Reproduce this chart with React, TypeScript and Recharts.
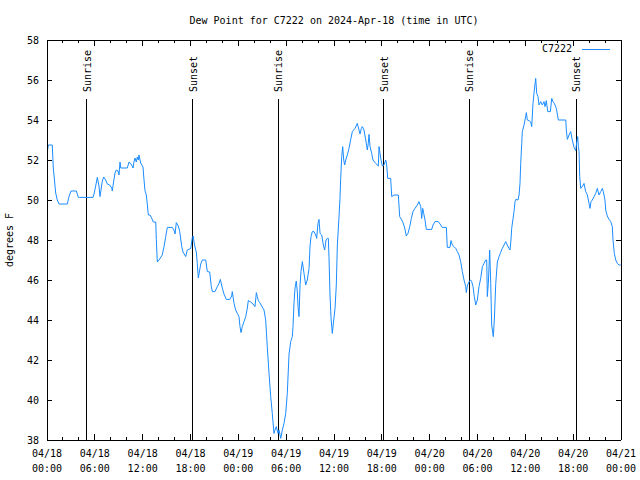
import React from 'react';
import { LineChart, Line, XAxis, YAxis, ReferenceLine, Legend } from 'recharts';

const TITLE = 'Dew Point for C7222 on 2024-Apr-18 (time in UTC)';
const SERIES_NAME = 'C7222';
const Y_LABEL = 'degrees F';
const LINE_COLOR = '#1a8cff';
const FONT = '"DejaVu Sans Mono", "Liberation Mono", monospace';

// hours since 2024-04-18 00:00 UTC
const HOURS = [
  0.04, 0.16, 0.66, 0.79, 0.97, 1.09, 1.29, 1.51, 2.55, 2.76,
  3.01, 3.68, 3.93, 4.10, 5.77, 5.90, 6.11, 6.31, 6.52, 6.65,
  6.81, 6.94, 7.11, 7.36, 7.56, 7.87, 8.12, 8.19, 8.37, 8.53,
  8.69, 8.91, 9.03, 9.16, 9.25, 10.07, 10.29, 10.62, 10.79, 10.91,
  11.04, 11.20, 11.33, 11.45, 11.54, 11.75, 12.04, 12.17, 12.29, 12.46,
  12.58, 12.71, 12.92, 13.13, 13.33, 13.64, 13.71, 13.84, 14.05, 14.46,
  14.68, 14.89, 15.09, 15.72, 15.93, 16.06, 16.22, 16.47, 16.65, 16.90,
  17.06, 17.40, 17.60, 18.03, 18.23, 18.35, 18.44, 18.65, 18.73, 18.85,
  18.98, 19.28, 19.48, 19.91, 20.11, 20.41, 20.61, 20.74, 21.07, 21.36,
  21.58, 21.74, 21.99, 22.20, 22.49, 22.92, 23.17, 23.24, 23.46, 23.67,
  23.87, 24.08, 24.21, 24.34, 24.50, 24.71, 24.93, 25.13, 25.25, 25.55,
  25.84, 26.09, 26.26, 26.38, 26.51, 26.68, 26.93, 27.22, 27.43, 27.63,
  27.85, 28.06, 28.26, 28.47, 28.60, 28.76, 28.98, 29.10, 29.32, 29.52,
  29.73, 29.94, 30.14, 30.36, 30.57, 30.77, 30.86, 30.98, 31.11, 31.27,
  31.40, 31.49, 31.61, 31.74, 31.86, 32.03, 32.24, 32.45, 32.65, 32.87,
  32.99, 33.12, 33.28, 33.49, 33.71, 33.83, 33.99, 34.12, 34.25, 34.46,
  34.66, 34.83, 35.00, 35.16, 35.29, 35.37, 35.50, 35.63, 35.79, 35.91,
  36.13, 36.29, 36.42, 36.63, 36.75, 36.84, 36.97, 37.09, 37.22, 37.34,
  37.47, 37.67, 37.88, 38.10, 38.30, 38.64, 38.92, 39.14, 39.26, 39.43,
  39.55, 39.76, 39.98, 40.18, 40.30, 40.39, 40.52, 40.73, 40.89, 41.23,
  41.56, 41.65, 41.77, 41.90, 42.06, 42.27, 42.49, 42.61, 42.74, 43.11,
  43.24, 43.53, 44.07, 44.24, 44.49, 44.66, 44.87, 45.07, 45.28, 45.50,
  45.70, 45.91, 46.16, 46.45, 46.66, 46.88, 47.00, 47.13, 47.25, 47.42,
  47.58, 48.26, 48.42, 48.67, 49.09, 49.39, 49.59, 50.09, 50.21, 50.55,
  50.68, 50.84, 51.05, 51.27, 51.47, 51.68, 51.89, 52.10, 52.31, 52.52,
  52.60, 52.72, 52.94, 53.15, 53.27, 53.44, 53.60, 53.78, 53.98, 54.19,
  54.40, 54.61, 54.82, 55.03, 55.16, 55.23, 55.36, 55.53, 55.66, 55.78,
  55.98, 56.11, 56.29, 56.49, 56.70, 56.91, 57.11, 57.33, 57.54, 57.74,
  57.95, 58.08, 58.20, 58.29, 58.46, 58.58, 58.71, 58.80, 59.08, 59.21,
  59.33, 59.42, 59.55, 59.62, 59.84, 59.96, 60.13, 60.25, 60.46, 60.68,
  60.80, 60.96, 61.13, 61.30, 61.43, 61.59, 61.72, 61.93, 62.13, 62.34,
  62.47, 62.63, 62.81, 63.14, 63.31, 63.47, 63.64, 63.89, 64.14, 65.07,
  65.14, 65.27, 65.48, 65.69, 65.89, 66.11, 66.32, 66.45, 66.57, 66.65,
  66.74, 66.82, 66.95, 67.15, 67.36, 67.57, 67.78, 67.99, 68.11, 68.24,
  68.40, 68.62, 68.83, 69.03, 69.24, 69.46, 69.66, 69.78, 69.99, 70.08,
  70.28, 70.50, 70.71, 70.91, 71.00, 71.16, 71.34, 71.54, 71.75, 71.97,
];

// dew point, degrees F
const DEW_POINT = [
  52.4, 52.75, 52.75, 51.6, 50.85, 50.35, 50.0, 49.8, 49.8, 50.17,
  50.45, 50.45, 50.13, 50.13, 50.13, 50.3, 50.7, 51.13, 50.7, 50.17,
  50.6, 50.95, 51.15, 51.0, 50.8, 50.75, 50.6, 50.45, 50.95, 51.35,
  51.5, 51.45, 51.25, 51.9, 51.6, 51.6, 51.9, 51.75, 51.6, 51.9,
  52.1, 51.9, 52.15, 52.0, 52.25, 51.85, 51.65, 51.0, 50.47, 50.25,
  49.8, 49.25, 49.25, 49.1, 48.9, 48.9, 48.03, 46.9, 47.0, 47.25,
  47.67, 48.17, 48.63, 48.63, 48.5, 48.3, 48.87, 48.7, 48.42, 47.67,
  47.4, 47.17, 47.5, 47.58, 48.13, 48.2, 47.9, 47.5, 47.4, 46.83,
  46.1, 46.8, 47.0, 47.0, 46.42, 46.4, 45.67, 45.42, 45.42, 45.67,
  45.83, 46.03, 45.6, 45.3, 45.03, 45.03, 45.2, 45.42, 44.83, 44.5,
  44.33, 44.17, 43.67, 43.37, 43.67, 43.92, 44.17, 44.6, 44.97, 44.9,
  44.8, 44.67, 45.37, 45.17, 44.97, 44.87, 44.7, 44.5, 44.0, 42.67,
  41.33, 40.17, 39.33, 38.33, 38.5, 38.67, 38.33, 38.5, 38.08, 38.5,
  38.83, 39.33, 40.33, 42.3, 42.92, 43.17, 43.67, 44.83, 45.6, 45.95,
  45.4, 44.67, 44.17, 45.75, 46.42, 46.92, 46.33, 45.75, 46.0, 46.58,
  47.67, 48.17, 48.42, 48.42, 48.25, 48.08, 48.83, 49.03, 48.33, 48.25,
  47.75, 47.5, 48.0, 48.08, 48.08, 47.17, 45.25, 44.08, 43.33, 43.8,
  44.58, 45.75, 47.75, 49.17, 50.08, 51.08, 52.17, 52.67, 52.0, 51.75,
  52.0, 52.25, 52.58, 53.03, 53.42, 53.58, 53.83, 53.5, 53.3, 53.58,
  53.67, 53.5, 53.0, 52.5, 52.83, 53.28, 52.67, 52.33, 52.0, 51.83,
  51.7, 52.67, 52.33, 52.0, 51.7, 51.75, 52.0, 51.75, 51.08, 51.08,
  50.17, 50.25, 50.25, 49.17, 49.0, 48.87, 48.6, 48.2, 48.33, 48.67,
  49.08, 49.42, 49.58, 49.75, 49.92, 49.67, 49.08, 49.58, 49.33, 49.0,
  48.53, 48.53, 48.75, 48.92, 48.92, 48.75, 48.63, 48.63, 47.63, 47.63,
  47.97, 47.75, 47.67, 47.58, 47.42, 47.25, 46.92, 46.42, 46.0, 45.67,
  45.37, 45.7, 45.92, 46.0, 45.92, 45.67, 45.17, 44.75, 45.0, 45.67,
  46.08, 46.67, 46.83, 47.0, 47.0, 45.17, 45.83, 47.5, 45.83, 43.75,
  43.17, 44.0, 45.83, 46.9, 47.17, 47.38, 47.58, 47.75, 47.92, 47.75,
  47.58, 47.5, 48.0, 48.58, 49.08, 49.42, 49.92, 50.03, 50.0, 50.25,
  50.83, 51.83, 52.83, 53.42, 53.75, 54.0, 54.37, 54.0, 53.97, 53.9,
  53.67, 54.83, 55.5, 56.08, 55.33, 55.17, 54.75, 54.92, 54.75, 54.92,
  54.67, 54.97, 54.42, 54.42, 55.08, 54.92, 54.83, 54.58, 54.0, 54.0,
  53.5, 53.03, 53.25, 53.42, 53.0, 52.63, 52.47, 52.9, 53.17, 52.67,
  52.42, 51.17, 50.58, 50.67, 50.83, 50.42, 50.25, 49.83, 49.58, 49.92,
  50.0, 50.17, 50.33, 50.58, 50.25, 50.42, 50.58, 50.42, 50.0, 49.5,
  49.2, 49.03, 48.92, 48.67, 48.0, 47.33, 47.0, 46.83, 46.75, 46.75,
];

const X_TICKS = [
  0, 2, 4, 6, 8, 10, 12, 14, 16, 18, 20, 22, 24, 26, 28, 30, 32, 34, 36,
  38, 40, 42, 44, 46, 48, 50, 52, 54, 56, 58, 60, 62, 64, 66, 68, 70, 72,
];
const X_MAJOR = [0, 6, 12, 18, 24, 30, 36, 42, 48, 54, 60, 66, 72];
const X_TICK_DATES = [
  '04/18', '04/18', '04/18', '04/18', '04/19', '04/19', '04/19', '04/19',
  '04/20', '04/20', '04/20', '04/20', '04/21',
];
const X_TICK_TIMES = [
  '00:00', '06:00', '12:00', '18:00', '00:00', '06:00', '12:00', '18:00',
  '00:00', '06:00', '12:00', '18:00', '00:00',
];
const Y_TICKS = [38, 40, 42, 44, 46, 48, 50, 52, 54, 56, 58];

const EVENT_HOURS = [4.98, 18.31, 28.98, 42.27, 52.94, 66.41];
const EVENT_LABELS = ['Sunrise', 'Sunset', 'Sunrise', 'Sunset', 'Sunrise', 'Sunset'];
const EVENT_LINE_TOP = 55.05;

const data = HOURS.map((t, i) => ({ t, v: DEW_POINT[i] }));

const BottomTick = (props: any) => {
  const { x, y, payload } = props;
  const idx = X_MAJOR.indexOf(payload.value);
  const major = idx >= 0;
  return (
    <g>
      <line x1={x} x2={x} y1={y} y2={y - (major ? 6 : 3)} stroke="#000" shapeRendering="crispEdges" />
      {major && (
        <text x={x} y={y + 17} textAnchor="middle" fontFamily={FONT} fontSize={10} fill="#000">
          {X_TICK_DATES[idx]}
        </text>
      )}
      {major && (
        <text x={x} y={y + 32} textAnchor="middle" fontFamily={FONT} fontSize={10} fill="#000">
          {X_TICK_TIMES[idx]}
        </text>
      )}
    </g>
  );
};

const TopTick = (props: any) => {
  const { x, y, payload } = props;
  const major = X_MAJOR.indexOf(payload.value) >= 0;
  return <line x1={x} x2={x} y1={y} y2={y + (major ? 6 : 3)} stroke="#000" shapeRendering="crispEdges" />;
};

const LeftTick = (props: any) => {
  const { x, y, payload } = props;
  return (
    <g>
      <line x1={x} x2={x + 5} y1={y} y2={y} stroke="#000" shapeRendering="crispEdges" />
      <text x={x - 8} y={y + 4} textAnchor="end" fontFamily={FONT} fontSize={10} fill="#000">
        {payload.value}
      </text>
    </g>
  );
};

const RightTick = (props: any) => {
  const { x, y } = props;
  return <line x1={x - 5} x2={x} y1={y} y2={y} stroke="#000" shapeRendering="crispEdges" />;
};

const TitleLabel = (props: any) => {
  const vb = props.viewBox || {};
  return (
    <text x={vb.x + vb.width / 2} y={vb.y + vb.height - 16} textAnchor="middle" fontFamily={FONT} fontSize={10} fill="#000">
      {TITLE}
    </text>
  );
};

const YTitle = (props: any) => {
  const vb = props.viewBox || {};
  const cx = vb.x + 13;
  const cy = vb.y + vb.height / 2;
  return (
    <text x={cx} y={cy} transform={`rotate(-90 ${cx} ${cy})`} textAnchor="middle" fontFamily={FONT} fontSize={10} fill="#000">
      {Y_LABEL}
    </text>
  );
};

const makeEventShape = (label: string) => (p: any) => {
  const top = Math.min(p.y1, p.y2);
  const bottom = Math.max(p.y1, p.y2);
  const tx = p.x1 + 4;
  const ty = top - 7;
  return (
    <g>
      <line x1={p.x1} x2={p.x2} y1={top} y2={bottom} stroke="#000" strokeWidth={1} shapeRendering="crispEdges" />
      <text x={tx} y={ty} transform={`rotate(-90 ${tx} ${ty})`} textAnchor="start" fontFamily={FONT} fontSize={10} fill="#000">
        {label}
      </text>
    </g>
  );
};

const LegendBox = () => (
  <div style={{ position: 'relative', width: 76, height: 12, fontFamily: FONT, fontSize: 10, lineHeight: '12px', color: '#000' }}>
    <span style={{ position: 'absolute', right: 44, top: 0, whiteSpace: 'nowrap' }}>{SERIES_NAME}</span>
    <svg style={{ position: 'absolute', left: 42, top: 0 }} width={30} height={12}>
      <line x1={0} x2={28} y1={6.5} y2={6.5} stroke={LINE_COLOR} strokeWidth={1} />
    </svg>
  </div>
);

export default function App() {
  return (
    <div style={{ position: 'absolute', left: 0, top: 0, width: 640, height: 480, background: '#fff' }}>
      <LineChart width={640} height={480} data={data} margin={{ top: 39, right: 18, bottom: 0, left: 0 }}>
        <XAxis
          dataKey="t"
          type="number"
          domain={[0, 72]}
          ticks={X_TICKS}
          interval={0}
          tick={<BottomTick />}
          tickLine={false}
          tickSize={0}
          tickMargin={0}
          height={40}
          axisLine={{ stroke: '#000', shapeRendering: 'crispEdges' }}
          allowDataOverflow
        />
        <XAxis
          xAxisId="top"
          dataKey="t"
          orientation="top"
          type="number"
          domain={[0, 72]}
          ticks={X_TICKS}
          interval={0}
          tick={<TopTick />}
          tickLine={false}
          tickSize={0}
          tickMargin={0}
          height={1}
          axisLine={{ stroke: '#000', shapeRendering: 'crispEdges' }}
          label={<TitleLabel />}
          allowDataOverflow
        />
        <YAxis
          type="number"
          domain={[38, 58]}
          ticks={Y_TICKS}
          interval={0}
          tick={<LeftTick />}
          tickLine={false}
          tickSize={0}
          tickMargin={0}
          width={47}
          axisLine={{ stroke: '#000', shapeRendering: 'crispEdges' }}
          label={<YTitle />}
          allowDataOverflow
        />
        <YAxis
          yAxisId="right"
          dataKey="v"
          orientation="right"
          type="number"
          domain={[38, 58]}
          ticks={Y_TICKS}
          interval={0}
          tick={<RightTick />}
          tickLine={false}
          tickSize={0}
          tickMargin={0}
          width={1}
          axisLine={{ stroke: '#000', shapeRendering: 'crispEdges' }}
          allowDataOverflow
        />
        {EVENT_HOURS.map((h, i) => (
          <ReferenceLine
            key={`ev-${i}`}
            segment={[{ x: h, y: EVENT_LINE_TOP }, { x: h, y: 38 }]}
            stroke="#000"
            shape={makeEventShape(EVENT_LABELS[i])}
            ifOverflow="visible"
          />
        ))}
        <Line
          type="linear"
          dataKey="v"
          name={SERIES_NAME}
          stroke={LINE_COLOR}
          strokeWidth={1}
          dot={false}
          activeDot={false}
          isAnimationActive={false}
        />
        <Legend
          layout="vertical"
          align="center"
          verticalAlign="middle"
          wrapperStyle={{ left: 540, top: 43, width: 76, height: 12 }}
          content={() => <LegendBox />}
        />
      </LineChart>
    </div>
  );
}
